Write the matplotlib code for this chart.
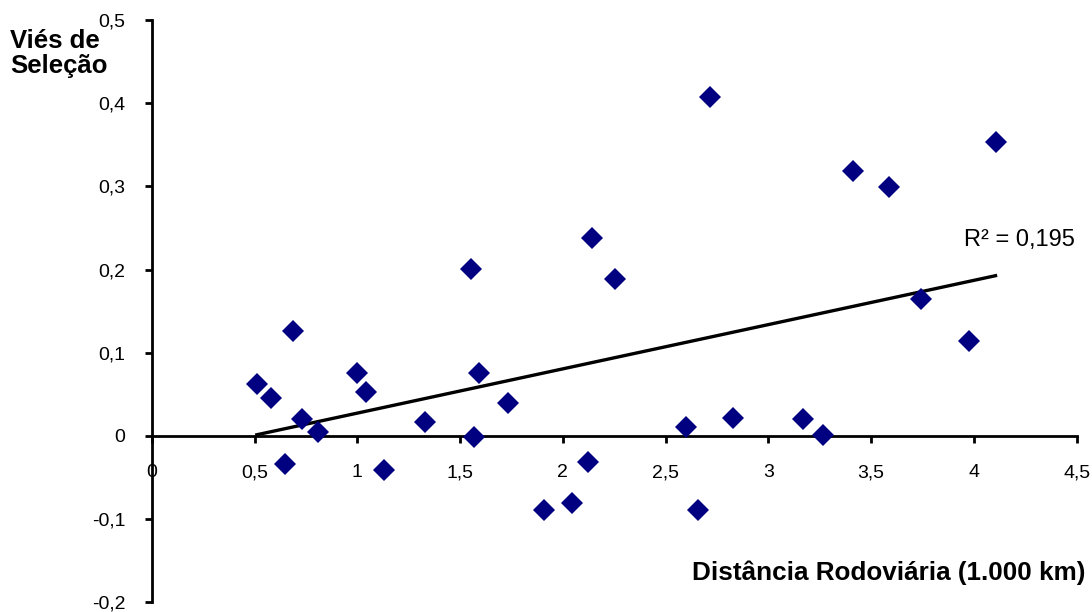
import numpy as np
import matplotlib.pyplot as plt
from matplotlib.ticker import FuncFormatter, MultipleLocator

plt.rcParams['font.family'] = ['Liberation Sans', 'DejaVu Sans']

# distancia rodoviaria (1.000 km) x vies de selecao
dist = [0.511, 0.579, 0.647, 0.686, 0.730, 0.807, 0.997, 1.041, 1.128, 1.328,
        1.552, 1.566, 1.590, 1.732, 1.907, 2.043, 2.121, 2.140, 2.252, 2.597,
        2.656, 2.714, 2.826, 3.166, 3.264, 3.410, 3.589, 3.740, 3.974, 4.105]
vies = [0.0625, 0.0457, -0.034, 0.126, 0.020, 0.004, 0.076, 0.053, -0.041, 0.016,
        0.201, -0.001, 0.075, 0.040, -0.089, -0.081, -0.032, 0.238, 0.189, 0.011,
        -0.089, 0.407, 0.022, 0.020, 0.001, 0.318, 0.299, 0.165, 0.114, 0.354]
r2_text = 'R² = 0,195'

fig = plt.figure(figsize=(10.92, 6.12), dpi=100)
ax = fig.add_axes([0.139, 0.0163, 0.847, 0.9507])

x = np.array(dist)
y = np.array(vies)
b, a = np.polyfit(x, y, 1)
xl = np.array([x.min(), x.max()])
ax.plot(xl, a + b * xl, color='black', lw=2.4, zorder=2)
ax.plot(x, y, 'D', color='#000080', markersize=11, markeredgewidth=0, zorder=3)

ax.set_xlim(0, 4.5)
ax.set_ylim(-0.2, 0.5)
ax.xaxis.set_major_locator(MultipleLocator(0.5))
ax.yaxis.set_major_locator(MultipleLocator(0.1))

def fmt(v, pos):
    s = ('%.1f' % v).rstrip('0').rstrip('.')
    if s in ('-0', ''):
        s = '0'
    return s.replace('.', ',')

ax.xaxis.set_major_formatter(FuncFormatter(fmt))
ax.yaxis.set_major_formatter(FuncFormatter(fmt))

ax.spines['top'].set_visible(False)
ax.spines['right'].set_visible(False)
ax.spines['bottom'].set_position(('data', 0))
for s in ('left', 'bottom'):
    ax.spines[s].set_linewidth(2)
ax.tick_params(axis='both', direction='out', length=5, width=2, labelsize=14)
ax.tick_params(axis='x', pad=15.5)
ax.tick_params(axis='y', pad=14)
for lbl in ax.get_xticklabels():
    lbl.set_zorder(5)

fig.text(0.009, 0.913, 'Viés de\nSeleção', fontsize=18.5, fontweight='bold',
         ha='left', va='center', linespacing=1.05)
fig.text(0.994, 0.064, 'Distância Rodoviária (1.000 km)', fontsize=18.8,
         fontweight='bold', ha='right', va='center')
ax.text(4.49, 0.236, r2_text, fontsize=17, ha='right', va='center')

fig.savefig('out.png', dpi=100)
